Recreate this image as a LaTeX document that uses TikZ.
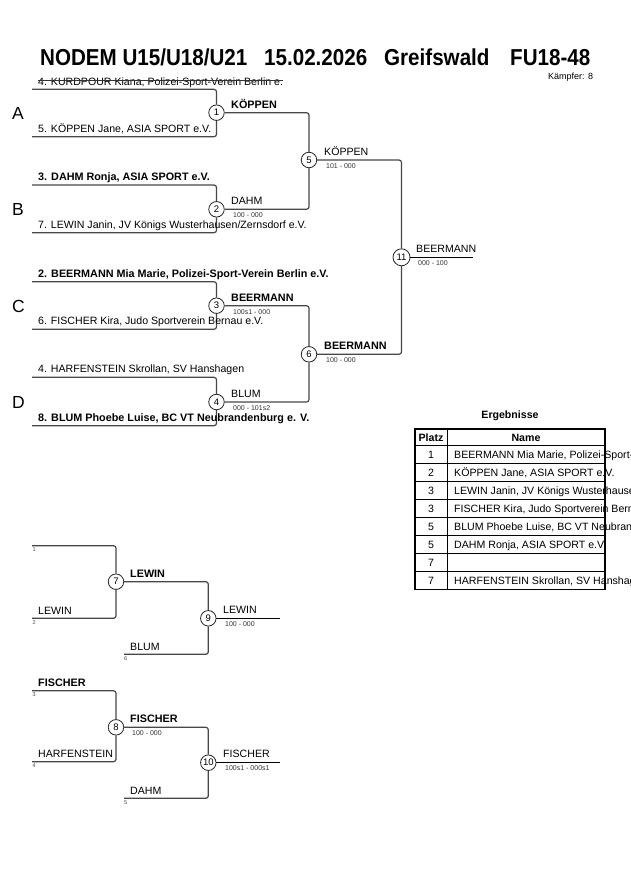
\documentclass[tikz,border=0pt]{standalone}
\usepackage{fontspec}
\setmainfont{Liberation Sans}
\usetikzlibrary{calc}
\begin{document}
\begin{tikzpicture}[x=1pt,y=-1pt,
  br/.style={draw=black!72, line width=1.2pt, rounded corners=2.5pt},
  fin/.style={draw=black, line width=0.9pt},
  mn/.style={circle, draw=black!85, line width=0.8pt, fill=white, minimum size=15.5pt, inner sep=0pt, font=\fontsize{9.5}{10}\selectfont},
  mnw/.style={mn, minimum size=17pt},
  nm/.style={anchor=base west, inner sep=0pt, font=\fontsize{10.6}{11}\selectfont},
  nb/.style={anchor=base west, inner sep=0pt, font=\fontsize{10.8}{11}\selectfont\bfseries},
  sc/.style={anchor=base west, inner sep=0pt, font=\fontsize{7}{8}\selectfont, text=black!80},
  sd/.style={anchor=base west, inner sep=0pt, font=\fontsize{5.5}{6}\selectfont, text=black!70},
  grp/.style={anchor=base west, inner sep=0pt, font=\fontsize{17.5}{18}\selectfont},
  ttl/.style={anchor=base west, inner sep=0pt, font=\fontsize{20.6}{22}\selectfont\bfseries},
  tb/.style={anchor=base, inner sep=0pt, font=\fontsize{10.6}{11}\selectfont},
  tbl/.style={anchor=base west, inner sep=0pt, font=\fontsize{10.6}{11}\selectfont}
]
\clip (0,0) rectangle (630,891);
\fill[white] (0,0) rectangle (630,891);

% title
\node[ttl] (t1) at (40,66) {\scalebox{1}[1.12]{NODEM U15/U18/U21}};
\node[ttl] (t2) at (264,66) {\scalebox{1}[1.12]{15.02.2026}};
\node[ttl] (t3) at (384,66) {\scalebox{1}[1.12]{Greifswald}};
\node[ttl] (t4) at (510,66) {\scalebox{1}[1.12]{FU18-48}};
\node[anchor=base west, inner sep=0pt, font=\fontsize{9}{10}\selectfont] (kf) at (548,79) {Kämpfer: 8};

% group letters
\node[grp] (gA) at (12,119.5) {A};
\node[grp] (gB) at (12,215.5) {B};
\node[grp] (gC) at (12,312) {C};
\node[grp] (gD) at (12,408.5) {D};

% match circles main bracket
\node[mn] (m1) at (216.5,112.7) {1};
\node[mn] (m2) at (216.5,209.3) {2};
\node[mn] (m3) at (216.5,305.7) {3};
\node[mn] (m4) at (216.5,402) {4};
\node[mn] (m5) at (309,160) {5};
\node[mn] (m6) at (309,354.3) {6};
\node[mnw] (m11) at (401.5,257.3) {11};

% start coordinates
\coordinate (s1) at (32,89.3);
\coordinate (s2) at (32,136.7);
\coordinate (s3) at (32,185);
\coordinate (s4) at (32,232.7);
\coordinate (s5) at (32,281.7);
\coordinate (s6) at (32,329.3);
\coordinate (s7) at (32,377.3);
\coordinate (s8) at (32,425.7);
\coordinate (e11) at (473,257.3);

\draw[br] (s1) -| (m1);
\draw[br] (s2) -| (m1);
\draw[br] (s3) -| (m2);
\draw[br] (s4) -| (m2);
\draw[br] (s5) -| (m3);
\draw[br] (s6) -| (m3);
\draw[br] (s7) -| (m4);
\draw[br] (s8) -| (m4);
\draw[br] (m1) -| (m5);
\draw[br] (m2) -| (m5);
\draw[br] (m3) -| (m6);
\draw[br] (m4) -| (m6);
\draw[br] (m5) -| (m11);
\draw[br] (m6) -| (m11);
\draw[fin] (m11) -- (e11);

% entrant names
\node[nm] (p1) at (38,85) {4. KURDPOUR Kiana, Polizei-Sport-Verein Berlin e.};
\draw[black!80, line width=0.7pt] ($(p1.base west)+(0,-4.2)$) -- ($(p1.base east)+(0,-4.2)$);
\node[nm] (p2) at (38,132.2) {5. KÖPPEN Jane, ASIA SPORT e.V.};
\node[nb] (p3) at (38,180.5) {3. DAHM Ronja, ASIA SPORT e.V.};
\node[nm] (p4) at (38,228.2) {7. LEWIN Janin, JV Königs Wusterhausen/Zernsdorf e.V.};
\node[nb] (p5) at (38,277.2) {2. BEERMANN Mia Marie, Polizei-Sport-Verein Berlin e.V.};
\node[nm] (p6) at (38,324.8) {6. FISCHER Kira, Judo Sportverein Bernau e.V.};
\node[nm] (p7) at (38,372.8) {4. HARFENSTEIN Skrollan, SV Hanshagen};
\node[nb] (p8) at (38,421.2) {8. BLUM Phoebe Luise, BC VT Neubrandenburg e. V.};

% winners
\node[nb] (w1) at (231,108) {KÖPPEN};
\node[nm] (w2) at (231,204.5) {DAHM};
\node[sc] (r2) at (233,217) {100 - 000};
\node[nb] (w3) at (231,301) {BEERMANN};
\node[sc] (r3) at (233,314) {100s1 - 000};
\node[nm] (w4) at (231,397.5) {BLUM};
\node[sc] (r4) at (233,410.5) {000 - 101s2};
\node[nm] (w5) at (324,155.5) {KÖPPEN};
\node[sc] (r5) at (326,168.5) {101 - 000};
\node[nb] (w6) at (324,349.5) {BEERMANN};
\node[sc] (r6) at (326,362.5) {100 - 000};
\node[nm] (w11) at (416,252.5) {BEERMANN};
\node[sc] (r11) at (418,265.5) {000 - 100};

% results table
\node[anchor=base, inner sep=0pt, font=\fontsize{10.6}{11}\selectfont\bfseries] (erg) at (510,418) {Ergebnisse};
\foreach \i/\p/\n in {1/1/{BEERMANN Mia Marie, Polizei-Sport-Verein Berlin e.V.},
                     2/2/{KÖPPEN Jane, ASIA SPORT e.V.},
                     3/3/{LEWIN Janin, JV Königs Wusterhausen/Zernsdorf e.V.},
                     4/3/{FISCHER Kira, Judo Sportverein Bernau e.V.},
                     5/5/{BLUM Phoebe Luise, BC VT Neubrandenburg e. V.},
                     6/5/{DAHM Ronja, ASIA SPORT e.V.},
                     7/7/{},
                     8/7/{HARFENSTEIN Skrollan, SV Hanshagen}}{
  \node[tb] (tp\i) at (431,{445.7+17.95*(\i-1)+13}) {\p};
  \node[tbl] (tn\i) at (454,{445.7+17.95*(\i-1)+13}) {\n};
}
\node[tb, font=\fontsize{10.6}{11}\selectfont\bfseries] (hp) at (431,441.5) {Platz};
\node[tb, font=\fontsize{10.6}{11}\selectfont\bfseries] (hn) at (526,441.5) {Name};
\foreach \i in {0,...,7}{
  \draw[black, line width=0.9pt] (415,{445.7+17.95*\i}) -- (605,{445.7+17.95*\i});
}
\draw[black, line width=0.9pt] (447.3,429) -- (447.3,589.3);
\draw[black, line width=1.6pt] (415,429) rectangle (605,589.3);

% repechage
\node[mn] (m7) at (116,581.7) {7};
\node[mn] (m9) at (208.3,618.3) {9};
\node[mn] (m8) at (116,727.3) {8};
\node[mn] (m10) at (208.3,762.7) {10};
\coordinate (q1) at (32,545.7);
\coordinate (q2) at (32,618.3);
\coordinate (q6) at (124,654.3);
\coordinate (e9) at (280,618.3);
\coordinate (q3) at (32,690.7);
\coordinate (q4) at (32,761.7);
\coordinate (q5) at (124,798.3);
\coordinate (e10) at (280,762.7);
\draw[br] (q1) -| (m7);
\draw[br] (q2) -| (m7);
\draw[br] (m7) -| (m9);
\draw[br] (q6) -| (m9);
\draw[fin] (m9) -- (e9);
\draw[br] (q3) -| (m8);
\draw[br] (q4) -| (m8);
\draw[br] (m8) -| (m10);
\draw[br] (q5) -| (m10);
\draw[fin] (m10) -- (e10);

\node[sd] (d1) at (32.5,551.5) {1};
\node[nm] (n2) at (38,614) {LEWIN};
\node[sd] (d2) at (32.5,624) {2};
\node[nb] (v7) at (130,577) {LEWIN};
\node[nm] (n6) at (130,650) {BLUM};
\node[sd] (d6) at (124,660) {6};
\node[nm] (v9) at (223,613.5) {LEWIN};
\node[sc] (r9) at (225,626) {100 - 000};

\node[nb] (n3) at (38,686) {FISCHER};
\node[sd] (d3) at (32.5,696.5) {3};
\node[nm] (n4) at (38,757) {HARFENSTEIN};
\node[sd] (d4) at (32.5,767) {4};
\node[nb] (v8) at (130,722.5) {FISCHER};
\node[sc] (r8) at (132,735) {100 - 000};
\node[nm] (n5) at (130,794) {DAHM};
\node[sd] (d5) at (124,804) {5};
\node[nm] (v10) at (223,757.5) {FISCHER};
\node[sc] (r10) at (225,770) {100s1 - 000s1};
\end{tikzpicture}
\end{document}
